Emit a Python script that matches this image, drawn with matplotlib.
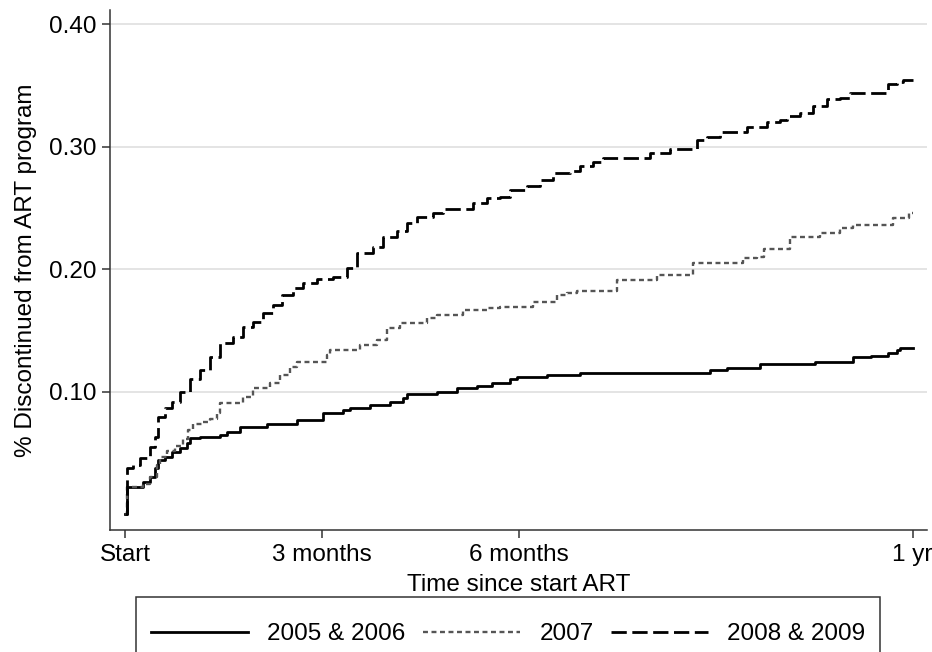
import matplotlib.pyplot as plt
from matplotlib.patches import Rectangle

plt.rcParams['font.family'] = ['Liberation Sans', 'DejaVu Sans']

# time in months since ART start, cumulative proportion discontinued
months_0506 = [0, 0.03, 0.27, 0.38, 0.46, 0.50, 0.61, 0.72, 0.84, 0.95, 0.99, 1.14, 1.45, 1.55,
               1.75, 2.16, 2.62, 3.02, 3.32, 3.43, 3.73, 4.04, 4.24, 4.30, 4.76, 5.06, 5.37,
               5.59, 5.87, 5.98, 6.43, 6.94, 8.92, 9.18, 9.68, 10.52, 11.10, 11.36, 11.62,
               11.77, 11.81, 12.0]
disc_0506 = [0, 0.022, 0.026, 0.030, 0.038, 0.044, 0.047, 0.051, 0.054, 0.058, 0.062, 0.063,
             0.065, 0.067, 0.071, 0.074, 0.077, 0.083, 0.085, 0.087, 0.089, 0.092, 0.095,
             0.098, 0.100, 0.103, 0.105, 0.107, 0.110, 0.112, 0.114, 0.115, 0.118, 0.119,
             0.123, 0.124, 0.128, 0.129, 0.132, 0.134, 0.136, 0.136]

months_07 = [0, 0.03, 0.27, 0.38, 0.49, 0.53, 0.64, 0.76, 0.88, 0.96, 1.04, 1.19, 1.30, 1.40,
             1.45, 1.80, 1.95, 2.21, 2.36, 2.52, 2.62, 3.08, 3.12, 3.58, 3.84, 3.99, 4.19,
             4.60, 4.76, 5.15, 5.52, 5.72, 6.22, 6.59, 6.74, 6.89, 7.50, 8.11, 8.66, 9.42,
             9.63, 9.73, 10.14, 10.59, 10.90, 11.10, 11.71, 11.94, 12.0]
disc_07 = [0, 0.022, 0.025, 0.030, 0.040, 0.047, 0.052, 0.056, 0.061, 0.069, 0.074, 0.075,
           0.078, 0.083, 0.091, 0.096, 0.103, 0.107, 0.114, 0.120, 0.124, 0.130, 0.134,
           0.138, 0.142, 0.152, 0.156, 0.160, 0.163, 0.167, 0.168, 0.169, 0.173, 0.179,
           0.181, 0.182, 0.191, 0.195, 0.205, 0.209, 0.210, 0.217, 0.226, 0.230, 0.234,
           0.236, 0.242, 0.246, 0.246]

months_0809 = [0, 0.03, 0.12, 0.23, 0.38, 0.46, 0.50, 0.61, 0.72, 0.84, 0.99, 1.14, 1.30, 1.45,
               1.65, 1.80, 1.95, 2.10, 2.26, 2.39, 2.56, 2.71, 2.93, 3.17, 3.38, 3.54, 3.78,
               3.93, 4.15, 4.30, 4.45, 4.70, 4.85, 5.30, 5.52, 5.72, 5.87, 6.13, 6.33, 6.52,
               6.78, 6.94, 7.13, 7.29, 8.00, 8.31, 8.72, 8.87, 9.07, 9.48, 9.79, 9.98, 10.09,
               10.29, 10.49, 10.70, 10.90, 11.05, 11.62, 11.77, 11.86, 12.0]
disc_0809 = [0, 0.038, 0.040, 0.046, 0.055, 0.063, 0.079, 0.087, 0.092, 0.100, 0.110, 0.118,
             0.128, 0.140, 0.145, 0.153, 0.157, 0.164, 0.171, 0.179, 0.185, 0.189, 0.192,
             0.194, 0.201, 0.213, 0.218, 0.226, 0.231, 0.238, 0.243, 0.246, 0.249, 0.254,
             0.258, 0.259, 0.265, 0.268, 0.273, 0.279, 0.280, 0.284, 0.288, 0.291, 0.295,
             0.298, 0.306, 0.308, 0.312, 0.316, 0.320, 0.322, 0.325, 0.328, 0.333, 0.339,
             0.340, 0.344, 0.351, 0.353, 0.355, 0.355]

x_ticks = [0, 3, 6, 12]
x_labels = ["Start", "3 months", "6 months", "1 yr"]
y_ticks = [0.10, 0.20, 0.30, 0.40]
y_labels = ["0.10", "0.20", "0.30", "0.40"]

fig = plt.figure(figsize=(9.32, 6.52), dpi=100)
ax = fig.add_axes([0.118, 0.187, 0.877, 0.798])

ax.step(months_0506, disc_0506, where="post", color="black", lw=2.0, label="2005 & 2006")
ax.step(months_07, disc_07, where="post", color="#555555", lw=1.7,
        linestyle=(0, (2.1, 1.5)), label="2007")
ax.step(months_0809, disc_0809, where="post", color="black", lw=2.0,
        linestyle=(0, (5.5, 2.0)), label="2008 & 2009")

ax.set_xlim(-0.229, 12.226)
ax.set_ylim(-0.013, 0.412)
ax.set_xticks(x_ticks, x_labels)
ax.set_yticks(y_ticks, y_labels)
ax.tick_params(labelsize=17.5, length=6, width=1.1, color="#333333", pad=4)
ax.yaxis.grid(True, color="#e2e2e2", lw=1.3)
ax.set_axisbelow(True)
for s in ["top", "right"]:
    ax.spines[s].set_visible(False)
for s in ["left", "bottom"]:
    ax.spines[s].set_color("#333333")
    ax.spines[s].set_linewidth(1.1)

ax.set_xlabel("Time since start ART", fontsize=17.5, labelpad=6)
ax.set_ylabel("% Discontinued from ART program", fontsize=17.5, labelpad=8)

# legend box sits below the axes and runs off the bottom of the figure
fig.patches.append(Rectangle((136 / 932, -0.05), (880 - 136) / 932, 0.05 + 1 - 597 / 652,
                             transform=fig.transFigure, fill=False, edgecolor="#333333", lw=1.1))
fig.legend(loc="center", bbox_to_anchor=(508 / 932, 1 - 634 / 652), ncol=3, frameon=False,
           fontsize=17.5, handlelength=4.0, handletextpad=0.8, columnspacing=0.7)

fig.savefig("out.png", dpi=100)
